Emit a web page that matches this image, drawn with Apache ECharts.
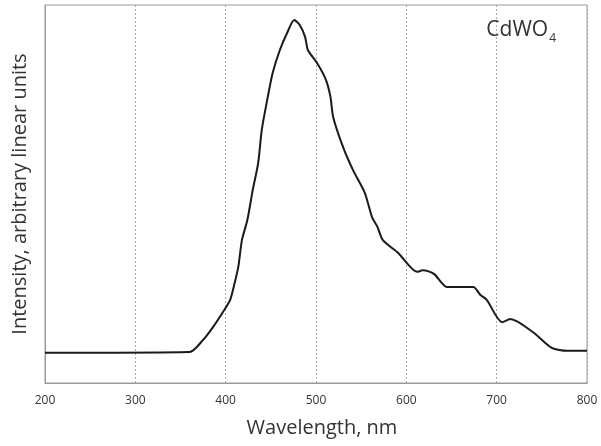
<!DOCTYPE html>
<html>
<head>
<meta charset="utf-8">
<script src="https://cdn.jsdelivr.net/npm/echarts@6/dist/echarts.min.js"></script>
<style>html,body{margin:0;padding:0;background:#fff;}#c{width:601px;height:446px;}</style>
</head>
<body>
<div id="c"></div>
<script>
var wavelength = [200, 360, 375, 386, 397, 405, 410, 414, 418, 424, 430, 436, 440, 446, 452, 460, 468, 476, 482, 488, 491, 501, 511, 516, 519, 530, 541, 554, 562, 568, 574, 591, 612, 618, 624, 631, 645, 674, 682, 689, 706, 715, 740, 761, 778, 800];
var intensity  = [8.0, 8.2, 11.4, 14.8, 18.8, 22.0, 26.5, 30.7, 37.8, 43.1, 51.1, 58.2, 67.0, 74.9, 82.0, 88.1, 92.6, 96.0, 94.7, 91.5, 88.1, 84.7, 80.2, 75.7, 70.4, 62.4, 56.3, 50.3, 43.9, 41.3, 37.8, 34.4, 29.4, 29.8, 29.6, 28.8, 25.4, 25.4, 23.3, 22.0, 16.1, 16.9, 13.5, 9.3, 8.5, 8.5];
var xTicks = [200, 300, 400, 500, 600, 700, 800];
var seriesName = 'CdWO4';

var pts = wavelength.map(function (w, i) { return [w, intensity[i]]; });
var chart = echarts.init(document.getElementById('c'));
chart.setOption({
  animation: false,
  backgroundColor: '#ffffff',
  title: {
    text: '{a|CdWO}{b|4}',
    right: 40,
    top: 15,
    textStyle: {
      fontWeight: 'normal',
      rich: {
        a: { fontFamily: 'Open Sans', fontSize: 21, fontWeight: 'normal', color: '#333', verticalAlign: 'bottom' },
        b: { fontFamily: 'Open Sans', fontSize: 12, fontWeight: 'normal', color: '#333', verticalAlign: 'bottom', padding: [0, 0, -4, 1] }
      }
    }
  },
  grid: { left: 45, right: 14, top: 5, bottom: 63, show: true, borderColor: '#999', borderWidth: 1 },
  xAxis: {
    type: 'value', min: 200, max: 800, interval: 100,
    name: 'Wavelength, nm', nameLocation: 'middle', nameGap: 35,
    nameTextStyle: { fontFamily: 'Open Sans', fontSize: 20, color: '#333', padding: [0, 0, 0, 12] },
    axisLine: { show: true, lineStyle: { color: '#999', width: 1 } },
    axisTick: { show: false },
    axisLabel: {
      margin: 12, fontFamily: 'Open Sans', fontSize: 12, color: '#333',
      customValues: xTicks
    },
    splitLine: { show: true, lineStyle: { color: '#aaa', type: [2, 2], width: 1 } }
  },
  yAxis: {
    type: 'value', min: 0, max: 100,
    name: 'Intensity, arbitrary linear units', nameLocation: 'middle', nameGap: 15,
    nameTextStyle: { fontFamily: 'Open Sans', fontSize: 20, color: '#333' },
    axisLine: { show: true, lineStyle: { color: '#999' } },
    axisTick: { show: false },
    axisLabel: { show: false },
    splitLine: { show: false }
  },
  series: [{
    name: seriesName,
    type: 'line',
    data: pts,
    showSymbol: false,
    smooth: 0.25,
    lineStyle: { color: '#1a1a1a', width: 2 }
  }]
});
</script>
</body>
</html>
